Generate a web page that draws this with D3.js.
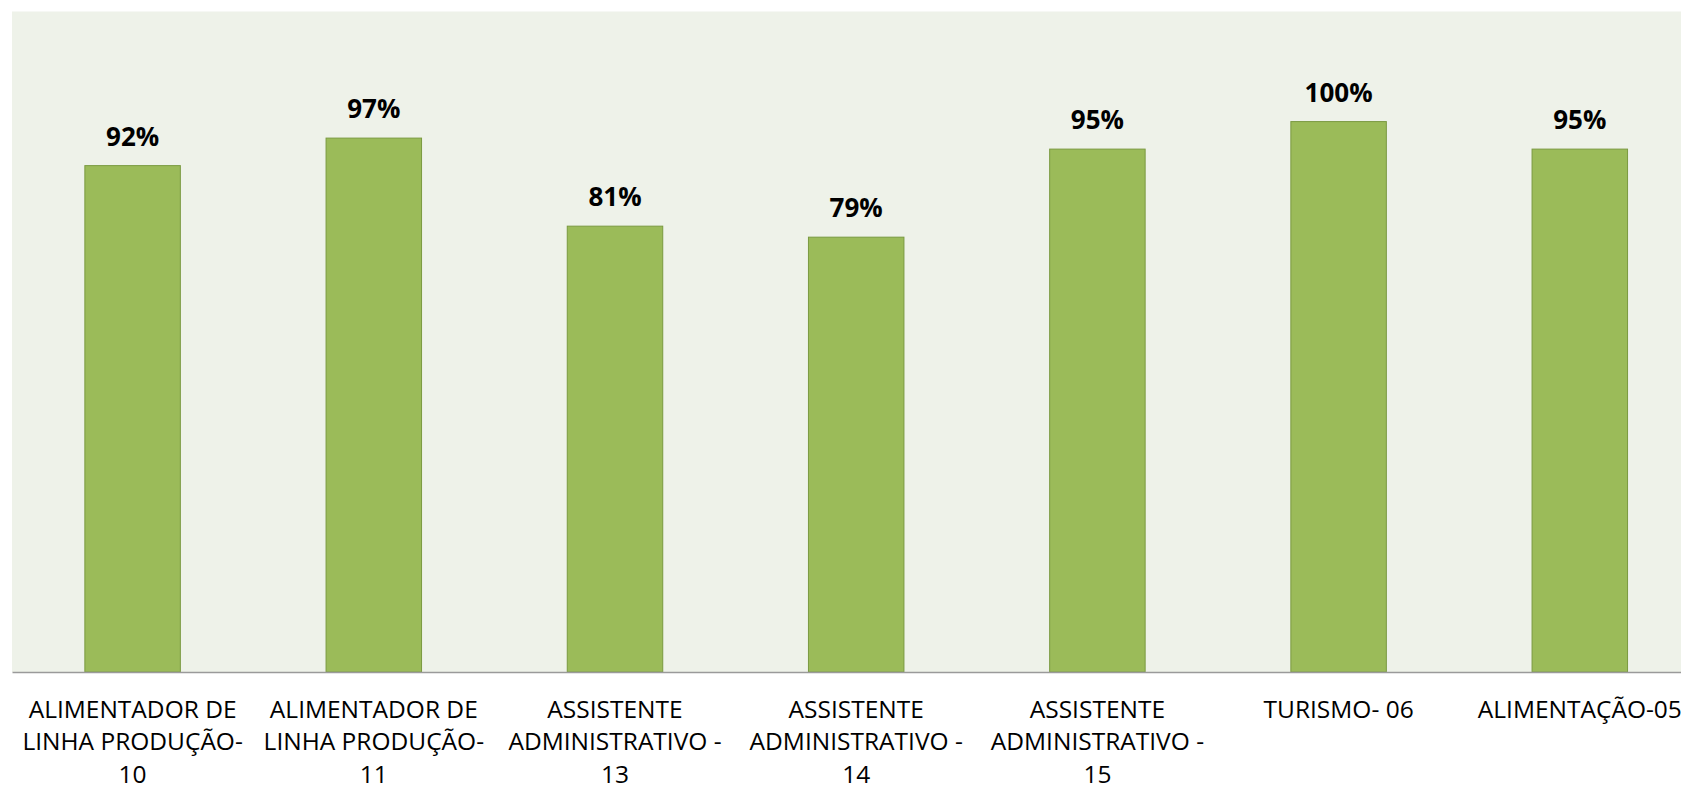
<!DOCTYPE html>
<html>
<head>
<meta charset="utf-8">
<script src="https://cdn.jsdelivr.net/npm/d3@7"></script>
<style>
  html, body { margin: 0; padding: 0; background: #ffffff; overflow: hidden; }
  svg { display: block; }
</style>
</head>
<body>
<svg id="chart" width="1681" height="789"></svg>
<script>
// ---- data ----
const categories = [
  "ALIMENTADOR DE\nLINHA PRODUÇÃO-\n10",
  "ALIMENTADOR DE\nLINHA PRODUÇÃO-\n11",
  "ASSISTENTE\nADMINISTRATIVO -\n13",
  "ASSISTENTE\nADMINISTRATIVO -\n14",
  "ASSISTENTE\nADMINISTRATIVO -\n15",
  "TURISMO- 06",
  "ALIMENTAÇÃO-05"
];
const values = [0.92, 0.97, 0.81, 0.79, 0.95, 1.00, 0.95];
const yDomain = [0, 1.2];

// ---- layout ----
const svg = d3.select("#chart");
const plotLeft = 12, plotRight = 1700.4, plotTop = 11.5, plotBottom = 672;

const x = d3.scaleBand()
  .domain(categories)
  .range([plotLeft, plotRight])
  .paddingInner(0.6)
  .paddingOuter(0.3);

const y = d3.scaleLinear().domain(yDomain).range([plotBottom, plotTop]);

// plot background
svg.append("rect")
  .attr("x", plotLeft).attr("y", plotTop)
  .attr("width", plotRight - plotLeft).attr("height", plotBottom - plotTop)
  .attr("fill", "#EEF2E9");

// bars
svg.append("g").selectAll("rect")
  .data(categories)
  .join("rect")
  .attr("x", d => x(d) + 0.5)
  .attr("y", (d, i) => y(values[i]))
  .attr("width", x.bandwidth() - 1)
  .attr("height", (d, i) => y(0) - y(values[i]))
  .attr("fill", "#9BBB59")
  .attr("stroke", "#7A9A40")
  .attr("stroke-width", 1);

// value labels
svg.append("g").selectAll("text")
  .data(categories)
  .join("text")
  .attr("x", d => x(d) + x.bandwidth() / 2)
  .attr("y", (d, i) => y(values[i]) - 20)
  .attr("text-anchor", "middle")
  .attr("font-family", "'Open Sans', sans-serif")
  .attr("font-weight", "bold")
  .attr("font-size", 26)
  .attr("fill", "#000")
  .text((d, i) => d3.format(".0%")(values[i]));

// x axis
const xAxis = svg.append("g")
  .attr("transform", `translate(0,${plotBottom})`)
  .call(d3.axisBottom(x).tickSize(0).tickFormat(""));
xAxis.select(".domain").attr("stroke", "#9A9A9A").attr("stroke-width", 1.5);

xAxis.selectAll(".tick").each(function(d) {
  const g = d3.select(this);
  g.select("text").remove();
  const t = g.append("text")
    .attr("text-anchor", "middle")
    .attr("font-family", "'Open Sans', sans-serif")
    .attr("font-size", 24.5)
    .attr("fill", "#000");
  d.split("\n").forEach((line, i) => {
    t.append("tspan").attr("x", 0).attr("y", 45.5 + i * 32.5).text(line);
  });
});
</script>
</body>
</html>
